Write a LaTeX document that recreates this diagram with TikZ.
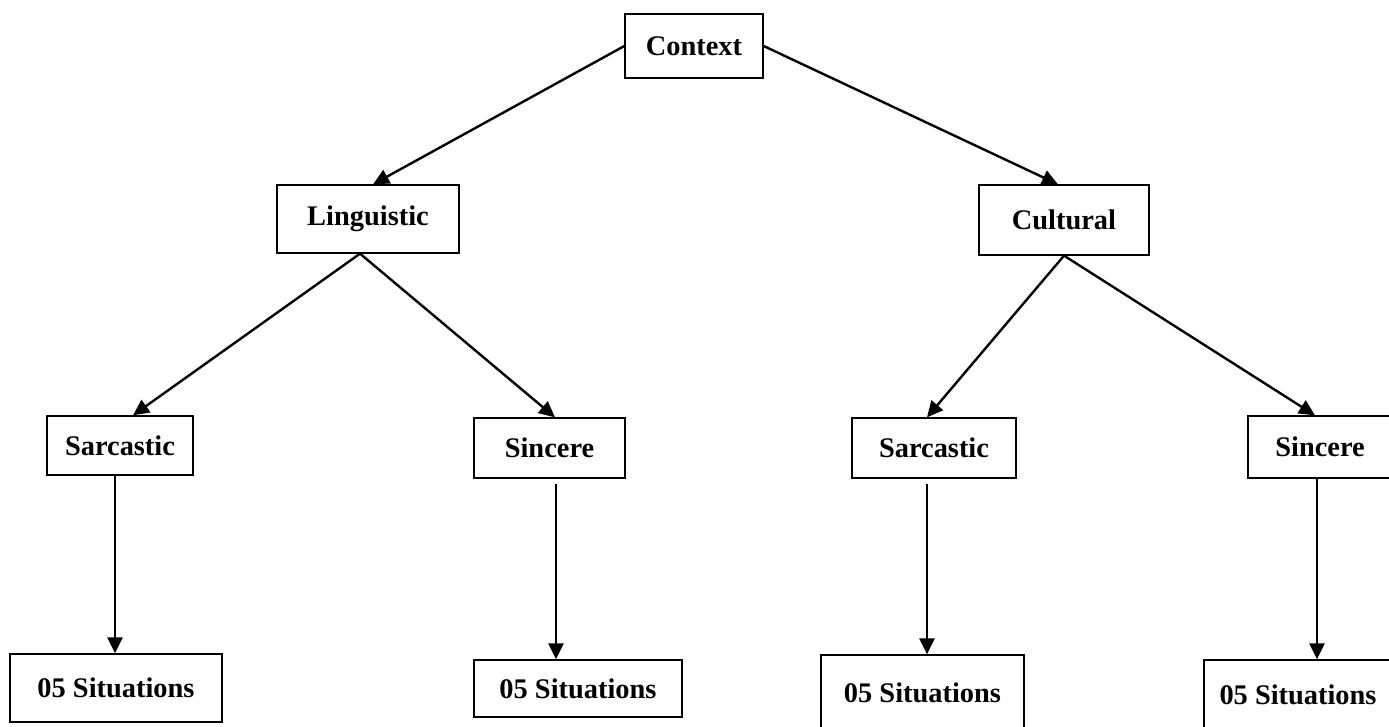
\documentclass[tikz,border=0pt]{standalone}
\usepackage{fontspec}
\setmainfont{Liberation Serif}
\usetikzlibrary{arrows.meta}
\tikzset{
  box/.style={draw=black, line width=1.3pt, rectangle, inner sep=0pt,
    font=\fontsize{28.4}{34}\selectfont\bfseries},
  conn/.style={line width=2.4pt, -{Triangle[length=16pt,width=15pt]}}
}
\begin{document}
\begin{tikzpicture}[x=1pt,y=-1pt]
\useasboundingbox (0,0) rectangle (1389,727);
\fill[white] (0,0) rectangle (1389,727);

\node[box, minimum width=138pt, minimum height=64pt] (ctx)  at (694,46)    {Context};
\node[box, minimum width=182pt, minimum height=68pt] (ling) at (368,219)   {Linguistic};
\node[box, minimum width=170pt, minimum height=70pt] (cult) at (1064,220)  {Cultural};
\node[box, minimum width=146pt, minimum height=59pt] (sarL) at (120,445.5) {Sarcastic};
\node[box, minimum width=151pt, minimum height=60pt] (sinL) at (549.5,448) {Sincere};
\node[box, minimum width=164pt, minimum height=60pt] (sarR) at (934,448)   {Sarcastic};
\node[box, minimum width=144pt, minimum height=62pt] (sinR) at (1320,447)  {Sincere};
\node[box, minimum width=212pt, minimum height=68pt] (sit1) at (116,688)   {05 Situations};
\node[box, minimum width=208pt, minimum height=57pt] (sit2) at (578,688.5) {05 Situations};
\node[box, minimum width=203pt, minimum height=75pt] (sit3) at (922.5,692.5) {05 Situations};
\node[box, minimum width=188pt, minimum height=70pt] (sit4) at (1298,695)  {05 Situations};

\draw[conn] (ctx.west) -- ([xshift=5pt]ling.north);
\draw[conn] (ctx.east) -- ([xshift=-6pt]cult.north);
\draw[conn] ([xshift=-8pt]ling.south) -- ([xshift=13pt]sarL.north);
\draw[conn] ([xshift=-8pt]ling.south) -- ([xshift=5.5pt]sinL.north);
\draw[conn] (cult.south) -- ([xshift=-7pt]sarR.north);
\draw[conn] (cult.south) -- ([xshift=-5pt]sinR.north);

\draw[conn] ([xshift=-5pt]sarL.south) -- ([xshift=-1pt]sit1.north);
\draw[conn] ([xshift=6.5pt,yshift=-5pt]sinL.south) -- ([xshift=-22pt]sit2.north);
\draw[conn] ([xshift=-7pt,yshift=-5pt]sarR.south) -- ([xshift=4.5pt]sit3.north);
\draw[conn] ([xshift=-3pt]sinR.south) -- ([xshift=19pt]sit4.north);
\end{tikzpicture}
\end{document}
